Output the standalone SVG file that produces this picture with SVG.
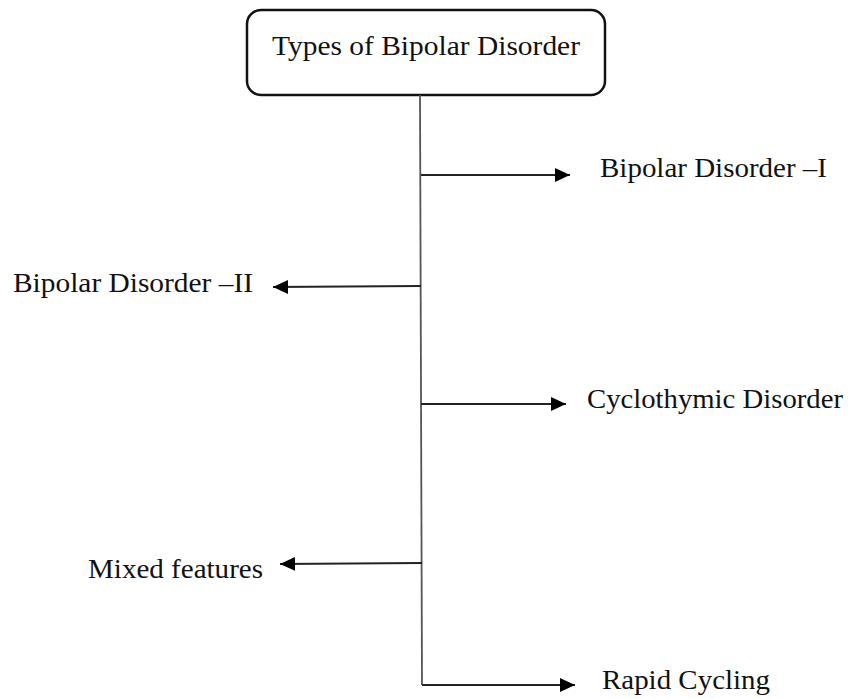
<svg xmlns="http://www.w3.org/2000/svg" width="848" height="699" viewBox="0 0 848 699">
  <style>
    .lbl { font-family: "Liberation Serif", "Times New Roman", serif; font-size: 28px; fill: #111111; }
    .box { fill: #ffffff; stroke: #111111; stroke-width: 2.5; }
    .stem { stroke: #555555; stroke-width: 1.8; fill: none; }
    .branch { stroke: #222222; stroke-width: 1.8; fill: none; marker-end: url(#arrow); }
  </style>
  <defs>
    <marker id="arrow" markerUnits="userSpaceOnUse" markerWidth="16" markerHeight="15" refX="15" refY="7" orient="auto">
      <path d="M0,0 L15,7 L0,14 z" fill="#000000"/>
    </marker>
  </defs>
  <rect x="0" y="0" width="848" height="699" fill="#ffffff"/>

  <!-- title box -->
  <g id="root">
    <rect class="box" x="247" y="10" width="358" height="85" rx="14" ry="14"/>
    <text class="lbl" x="272" y="55" textLength="308" lengthAdjust="spacingAndGlyphs">Types of Bipolar Disorder</text>
  </g>

  <!-- trunk and branch arrows -->
  <g id="connectors">
    <path class="stem" d="M420,95 L422,685"/>
    <path class="branch" d="M421,175 L570,175"/>
    <path class="branch" d="M421,286 L273,287"/>
    <path class="branch" d="M421,404 L566,404"/>
    <path class="branch" d="M422,563 L280,564"/>
    <path class="branch" d="M422,685 L575,685"/>
  </g>

  <g id="bipolar-1">
    <text class="lbl" x="600" y="177" textLength="227" lengthAdjust="spacingAndGlyphs">Bipolar Disorder –I</text>
  </g>
  <g id="bipolar-2">
    <text class="lbl" x="13" y="292" textLength="240" lengthAdjust="spacingAndGlyphs">Bipolar Disorder –II</text>
  </g>
  <g id="cyclothymic">
    <text class="lbl" x="587" y="408" textLength="256" lengthAdjust="spacingAndGlyphs">Cyclothymic Disorder</text>
  </g>
  <g id="mixed-features">
    <text class="lbl" x="88" y="578" textLength="175" lengthAdjust="spacingAndGlyphs">Mixed features</text>
  </g>
  <g id="rapid-cycling">
    <text class="lbl" x="602" y="689" textLength="168" lengthAdjust="spacingAndGlyphs">Rapid Cycling</text>
  </g>
</svg>
